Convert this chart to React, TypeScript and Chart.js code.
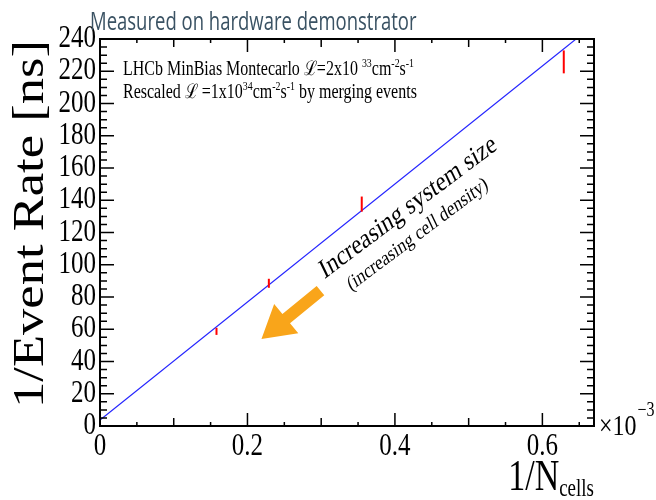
import React, { useEffect, useRef } from "react";
import { Chart, registerables, LinearScale } from "chart.js";

// ---------- data ----------
const pointX = [0.158, 0.229, 0.355, 0.629];
const pointY = [58.7, 88.5, 137.6, 225.8];
const pointErr = [2.2, 2.8, 4.7, 7.1];

const fitX = [0, 0.67];
const fitY = [3.7, 248.9];

const xMin = 0;
const xMax = 0.67;
const yMin = 0;
const yMax = 240;
const xMajorStep = 0.2;
const yMajorStep = 20;

const chartTitle = "Measured on hardware demonstrator";
const yTitle = "1/Event Rate [ns]";
const xTitleMain = "1/N";
const xTitleSub = "cells";
const xExponent = ["\u00d710", "\u22123"];

const annotMain = "Increasing system size";
const annotSub = "(increasing cell density)";
const annotMainPos = { x: 0.418, y: 135.4 };
const annotSubPos = { x: 0.431, y: 118.6 };
const arrowTail = { x: 0.299, y: 84 };
const arrowTip = { x: 0.219, y: 54 };

type Seg = { t: string; sup?: boolean };
const legendLine1: Seg[] = [
  { t: "LHCb MinBias Montecarlo " },
  { t: "\u2112" },
  { t: "=2x10 " },
  { t: "33", sup: true },
  { t: "cm" },
  { t: "-2", sup: true },
  { t: "s" },
  { t: "-1", sup: true },
];
const legendLine2: Seg[] = [
  { t: "Rescaled " },
  { t: "\u2112" },
  { t: " =1x10" },
  { t: "34", sup: true },
  { t: "cm" },
  { t: "-2", sup: true },
  { t: "s" },
  { t: "-1", sup: true },
  { t: " by merging events" },
];

const SERIF = "'Liberation Serif', 'Times New Roman', serif";
const SY = 1.25; // vertical text stretch seen in the reference

// Linear scale whose tick labels are drawn with the same vertical stretch
class StretchLinear extends (LinearScale as any) {
  static id = "stretchLinear";
  static defaults = (LinearScale as any).defaults;
  drawLabels(chartArea: any) {
    const self: any = this;
    if (!self.options.ticks.display) return;
    const ctx: CanvasRenderingContext2D = self.ctx;
    const items = self.getLabelItems(chartArea);
    for (const item of items) {
      const o = item.options;
      ctx.save();
      ctx.font = item.font.string;
      ctx.fillStyle = o.color;
      ctx.textAlign = o.textAlign;
      ctx.textBaseline = o.textBaseline;
      ctx.translate(o.translation[0], o.translation[1]);
      if (o.rotation) ctx.rotate(o.rotation);
      ctx.scale(1, SY);
      ctx.fillText(String(item.label), 0, item.textOffset);
      ctx.restore();
    }
  }
}

Chart.register(...registerables);
Chart.register(StretchLinear as any);

function drawSegs(ctx: CanvasRenderingContext2D, segs: Seg[], x: number, y: number, size: number) {
  ctx.save();
  ctx.translate(x, y);
  ctx.scale(1, SY);
  let cx = 0;
  for (const s of segs) {
    if (s.sup) {
      ctx.font = `${size * 0.62}px ${SERIF}`;
      ctx.fillText(s.t, cx, -size * 0.4);
    } else {
      ctx.font = `${size}px ${SERIF}`;
      ctx.fillText(s.t, cx, 0);
    }
    cx += ctx.measureText(s.t).width;
  }
  ctx.restore();
}

const rootPlugin = {
  id: "rootStyle",
  afterDatasetsDraw(chart: any) {
    const ctx: CanvasRenderingContext2D = chart.ctx;
    const xs = chart.scales.x;
    const ys = chart.scales.y;
    const a = chart.chartArea;

    // error bars
    ctx.save();
    ctx.strokeStyle = "#ff0000";
    ctx.lineWidth = 2;
    for (let i = 0; i < pointX.length; i++) {
      const px = xs.getPixelForValue(pointX[i]);
      ctx.beginPath();
      ctx.moveTo(px, ys.getPixelForValue(pointY[i] - pointErr[i]));
      ctx.lineTo(px, ys.getPixelForValue(pointY[i] + pointErr[i]));
      ctx.stroke();
    }
    ctx.restore();

    // frame
    ctx.save();
    ctx.strokeStyle = "#000";
    ctx.lineWidth = 2;
    ctx.strokeRect(a.left, a.top, a.right - a.left, a.bottom - a.top);

    ctx.lineWidth = 1.5;
    ctx.beginPath();
    for (let i = 0; ; i++) {
      const v = i * (xMajorStep / 4);
      if (v > xMax + 1e-9) break;
      const len = i % 4 === 0 ? 13 : i % 2 === 0 ? 8 : 4;
      const px = xs.getPixelForValue(v);
      ctx.moveTo(px, a.bottom);
      ctx.lineTo(px, a.bottom - len);
      ctx.moveTo(px, a.top);
      ctx.lineTo(px, a.top + len);
    }
    for (let i = 0; ; i++) {
      const v = i * (yMajorStep / 4);
      if (v > yMax + 1e-9) break;
      const len = i % 4 === 0 ? 14 : 7;
      const py = ys.getPixelForValue(v);
      ctx.moveTo(a.left, py);
      ctx.lineTo(a.left + len, py);
      ctx.moveTo(a.right, py);
      ctx.lineTo(a.right - len, py);
    }
    ctx.stroke();
    ctx.restore();
  },
  afterDraw(chart: any) {
    const ctx: CanvasRenderingContext2D = chart.ctx;
    const xs = chart.scales.x;
    const ys = chart.scales.y;
    const a = chart.chartArea;

    // page title
    ctx.save();
    ctx.fillStyle = "#3a5263";
    ctx.font = "18.5px 'Open Sans', sans-serif";
    ctx.textBaseline = "alphabetic";
    ctx.translate(90, 30);
    ctx.scale(1, 1.38);
    ctx.fillText(chartTitle, 0, 0);
    ctx.restore();

    // legend text
    ctx.fillStyle = "#000";
    ctx.textBaseline = "alphabetic";
    drawSegs(ctx, legendLine1, a.left + 23, a.top + 36, 16);
    drawSegs(ctx, legendLine2, a.left + 23, a.top + 59, 16);

    // y title
    ctx.save();
    ctx.fillStyle = "#000";
    ctx.font = `45px ${SERIF}`;
    const wy = ctx.measureText(yTitle).width;
    ctx.translate(43, a.top + 1);
    ctx.rotate(-Math.PI / 2);
    ctx.scale(368 / wy, 1);
    ctx.textAlign = "right";
    ctx.textBaseline = "alphabetic";
    ctx.fillText(yTitle, 0, 0);
    ctx.restore();

    // x title
    ctx.save();
    ctx.fillStyle = "#000";
    ctx.textBaseline = "alphabetic";
    ctx.font = `19px ${SERIF}`;
    const wSub = ctx.measureText(xTitleSub).width;
    ctx.font = `34px ${SERIF}`;
    const wMain = ctx.measureText(xTitleMain).width;
    const x0 = a.right - wSub - wMain;
    ctx.save();
    ctx.translate(x0, 490);
    ctx.scale(1, 1.3);
    ctx.fillText(xTitleMain, 0, 0);
    ctx.restore();
    ctx.save();
    ctx.translate(x0 + wMain, 496);
    ctx.scale(1, 1.3);
    ctx.font = `19px ${SERIF}`;
    ctx.fillText(xTitleSub, 0, 0);
    ctx.restore();
    ctx.restore();

    // x10^-3
    ctx.save();
    ctx.fillStyle = "#000";
    ctx.textBaseline = "alphabetic";
    const ex = a.right + 5;
    ctx.font = `24px ${SERIF}`;
    const w10 = ctx.measureText(xExponent[0]).width;
    ctx.save();
    ctx.translate(ex, a.bottom + 9);
    ctx.scale(1, SY);
    ctx.fillText(xExponent[0], 0, 0);
    ctx.restore();
    ctx.save();
    ctx.translate(ex + w10 + 1, a.bottom - 10);
    ctx.scale(1, SY);
    ctx.font = `16px ${SERIF}`;
    ctx.fillText(xExponent[1], 0, 0);
    ctx.restore();
    ctx.restore();

    // annotation texts (rotated, stretched)
    const ang = -31 * Math.PI / 180;
    const drawRot = (txt: string, pos: { x: number; y: number }, size: number) => {
      ctx.save();
      ctx.fillStyle = "#000";
      ctx.textAlign = "center";
      ctx.textBaseline = "middle";
      ctx.translate(xs.getPixelForValue(pos.x), ys.getPixelForValue(pos.y));
      ctx.scale(1, SY);
      ctx.rotate(ang);
      ctx.font = `${size}px ${SERIF}`;
      ctx.fillText(txt, 0, 0);
      ctx.restore();
    };
    drawRot(annotMain, annotMainPos, 22.5);
    drawRot(annotSub, annotSubPos, 16.8);

    // arrow
    const tx = xs.getPixelForValue(arrowTail.x);
    const ty = ys.getPixelForValue(arrowTail.y);
    const hx = xs.getPixelForValue(arrowTip.x);
    const hy = ys.getPixelForValue(arrowTip.y);
    const dx = hx - tx;
    const dy = hy - ty;
    const L = Math.hypot(dx, dy);
    const ux = dx / L, uy = dy / L;
    const nx = -uy, ny = ux;
    const headLen = 32, headHalf = 19, shaftHalf = 6;
    const bx = hx - ux * headLen, by = hy - uy * headLen;
    ctx.save();
    ctx.fillStyle = "#f9a51a";
    ctx.beginPath();
    ctx.moveTo(tx + nx * shaftHalf, ty + ny * shaftHalf);
    ctx.lineTo(bx + nx * shaftHalf, by + ny * shaftHalf);
    ctx.lineTo(bx + nx * headHalf, by + ny * headHalf);
    ctx.lineTo(hx, hy);
    ctx.lineTo(bx - nx * headHalf, by - ny * headHalf);
    ctx.lineTo(bx - nx * shaftHalf, by - ny * shaftHalf);
    ctx.lineTo(tx - nx * shaftHalf, ty - ny * shaftHalf);
    ctx.closePath();
    ctx.fill();
    ctx.restore();
  },
};

export default function App() {
  const ref = useRef<HTMLCanvasElement | null>(null);
  useEffect(() => {
    if (!ref.current) return;
    const chart = new Chart(ref.current, {
      type: "scatter",
      data: {
        datasets: [
          {
            type: "line",
            data: fitX.map((x, i) => ({ x, y: fitY[i] })),
            borderColor: "#2424ff",
            borderWidth: 1.2,
            pointRadius: 0,
            fill: false,
            tension: 0,
          } as any,
          {
            type: "scatter",
            data: pointX.map((x, i) => ({ x, y: pointY[i] })),
            pointRadius: 0,
            showLine: false,
          } as any,
        ],
      },
      options: {
        responsive: false,
        animation: false,
        devicePixelRatio: 1,
        layout: { padding: { top: 39, right: 62, left: 0, bottom: 0 } },
        plugins: {
          legend: { display: false },
          tooltip: { enabled: false },
          title: { display: false },
        },
        scales: {
          x: {
            type: "stretchLinear",
            position: "bottom",
            min: xMin,
            max: xMax,
            afterFit: (s: any) => {
              s.height = 74;
            },
            grid: { display: false, drawTicks: false },
            border: { display: false },
            ticks: {
              stepSize: xMajorStep,
              includeBounds: false,
              padding: 2,
              color: "#000",
              maxRotation: 0,
              autoSkip: false,
              font: { family: SERIF, size: 25 },
              callback: (v: any) => String(Number(Number(v).toFixed(2))),
            },
          },
          y: {
            type: "stretchLinear",
            position: "left",
            min: yMin,
            max: yMax,
            afterFit: (s: any) => {
              s.width = 100;
            },
            grid: { display: false, drawTicks: false },
            border: { display: false },
            ticks: {
              stepSize: yMajorStep,
              padding: 4,
              color: "#000",
              autoSkip: false,
              font: { family: SERIF, size: 25 },
            },
          },
        },
      } as any,
      plugins: [rootPlugin],
    });
    return () => chart.destroy();
  }, []);
  return (
    <div style={{ position: "absolute", left: 0, top: 0, width: 656, height: 500, background: "#fff" }}>
      <canvas ref={ref} width={656} height={500} style={{ display: "block", width: 656, height: 500 }} />
    </div>
  );
}
